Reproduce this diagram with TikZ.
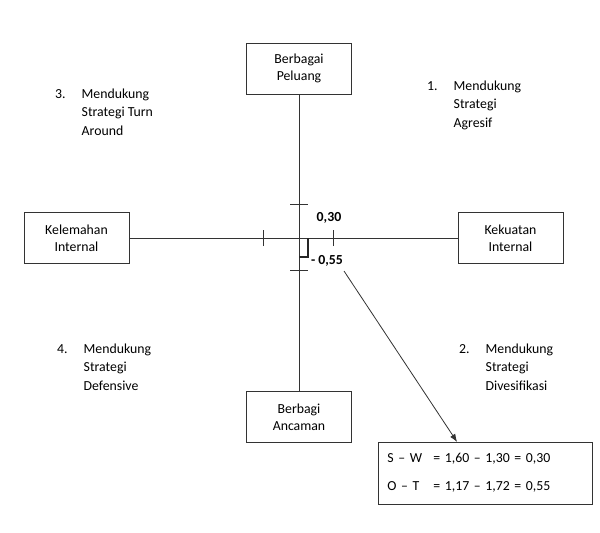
\documentclass[tikz,border=0pt]{standalone}
\usepackage{fontspec}
\setmainfont{Carlito}
\usetikzlibrary{arrows.meta}

\begin{document}
\begin{tikzpicture}[x=1pt,y=-1pt,
        font=\fontsize{13.8}{17}\selectfont,
        garis/.style={black!80, line width=0.8pt},
        kotak/.style={draw=black!80, line width=0.8pt, minimum width=105pt, minimum height=51pt, align=center, inner sep=2pt},
        kuadran/.style={anchor=base west, inner sep=0pt, font=\fontsize{13.8}{18.5}\selectfont}]
        \useasboundingbox (0,0) rectangle (600,533);
        \coordinate (o) at (299,238);

        % kotak faktor
        \node[kotak] (atas) at (299,68.5) {Berbagai\\Peluang};
        \node[kotak] (bawah) at (299,417) {Berbagi\\Ancaman};
        \node[kotak] (kiri) at (76.5,238) {Kelemahan\\Internal};
        \node[kotak] (kanan) at (510.5,238) {Kekuatan\\Internal};

        \draw[garis] (atas) -- (bawah);
        \draw[garis] (kiri) -- (kanan);

        % tanda skala
        \coordinate (t1) at (299,204); \coordinate (t2) at (299,270);
        \coordinate (t3) at (263,238); \coordinate (t4) at (333,238);
        \foreach \p in {t1,t2} \draw[garis] ([xshift=-9pt]\p) -- ([xshift=9pt]\p);
        \foreach \p in {t3,t4} \draw[garis] ([yshift=-8pt]\p) -- ([yshift=8pt]\p);

        % titik posisi
        \draw[black!85, line width=1.6pt] (o) ++(9,0) -- ++(0,19) -- ++(-9,0);
        \node[font=\fontsize{13.8}{17}\selectfont\bfseries] (sw) at (329,218) {0,30};
        \node[font=\fontsize{13.8}{17}\selectfont\bfseries] (ot) at (327,261) {- 0,55};

        % kuadran
        \node[kuadran] (k1) at (427,90) {\begin{tabular}[t]{@{}l@{\hspace{16pt}}l@{}}1. & Mendukung\\ & Strategi\\ & Agresif\end{tabular}};
        \node[kuadran] (k2) at (459,353) {\begin{tabular}[t]{@{}l@{\hspace{16pt}}l@{}}2. & Mendukung\\ & Strategi\\ & Divesifikasi\end{tabular}};
        \node[kuadran] (k3) at (55,98) {\begin{tabular}[t]{@{}l@{\hspace{16pt}}l@{}}3. & Mendukung\\ & Strategi Turn\\ & Around\end{tabular}};
        \node[kuadran] (k4) at (57,353) {\begin{tabular}[t]{@{}l@{\hspace{16pt}}l@{}}4. & Mendukung\\ & Strategi\\ & Defensive\end{tabular}};

        % hasil perhitungan
        \node[draw=black!80, line width=0.8pt, anchor=north west, minimum width=214pt, minimum height=62pt,
            text width=196pt, inner xsep=9pt, align=left] (hasil) at (378,442)
            {\begin{tabular}{@{}p{46pt}@{}l@{}}S -- W & = 1,60 -- 1,30 = 0,30\\[11pt] O -- T & = 1,17 -- 1,72 = 0,55\end{tabular}};
        \coordinate (pangkal) at (344,271);
        \draw[garis, -{Latex[length=8pt,width=6pt]}] (pangkal) -- (hasil.132);
    \end{tikzpicture}
\end{document}
